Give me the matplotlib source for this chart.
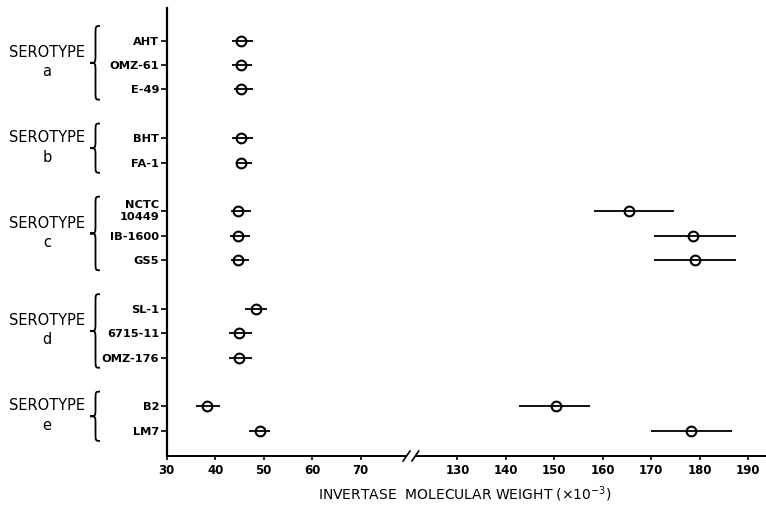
import matplotlib
matplotlib.use("Agg")
import matplotlib.pyplot as plt
from matplotlib.path import Path
from matplotlib.patches import PathPatch
import matplotlib.transforms as mtransforms

# Strains grouped by serotype
serotypes = ["a", "b", "c", "d", "e"]
strains_a = ["AHT", "OMZ-61", "E-49"]
strains_b = ["BHT", "FA-1"]
strains_c = ["NCTC\n10449", "IB-1600", "GS5"]
strains_d = ["SL-1", "6715-11", "OMZ-176"]
strains_e = ["B2", "LM7"]

# Low molecular weight invertase (x10^-3): estimate and range
low_mw = [45.3, 45.3, 45.3, 45.3, 45.4, 44.8, 44.8, 44.8, 48.5, 45.0, 45.0, 38.4, 49.2]
low_min = [43.5, 43.5, 43.8, 43.5, 44.2, 43.3, 43.1, 43.2, 46.1, 42.9, 42.9, 36.0, 47.0]
low_max = [47.9, 47.5, 47.8, 47.9, 47.5, 47.4, 47.1, 47.0, 50.8, 47.7, 47.6, 41.0, 51.4]

# High molecular weight invertase, found in a subset of strains
high_strains = ["NCTC\n10449", "IB-1600", "GS5", "B2", "LM7"]
high_mw = [165.5, 178.6, 179.1, 150.4, 178.1]
high_min = [158.1, 170.5, 170.6, 142.6, 170.0]
high_max = [174.6, 187.4, 187.4, 157.3, 186.7]

x_ticks_low = [30, 40, 50, 60, 70]
x_ticks_high = [130, 140, 150, 160, 170, 180, 190]
x_label = "INVERTASE  MOLECULAR WEIGHT (\u00d710$^{-3}$)"

groups = [strains_a, strains_b, strains_c, strains_d, strains_e]

# Row positions: one empty row between serotype groups
labels, ypos, group_rows = [], [], []
slot = 0
for g in groups:
    rows = []
    for s in g:
        labels.append(s)
        ypos.append(slot)
        rows.append(slot)
        slot += 1
    group_rows.append(rows)
    slot += 1
row_of = dict(zip(labels, ypos))

W, H = 766, 512
fig = plt.figure(figsize=(W / 100, H / 100), dpi=100)
fig.patch.set_facecolor("white")

x0, xb, x1 = 166.7, 409.0, 766.0
y_top, y_bot = 8.0, 456.0
ax1 = fig.add_axes([x0 / W, (H - y_bot) / H, (xb - x0) / W, (y_bot - y_top) / H])
ax2 = fig.add_axes([xb / W, (H - y_bot) / H, (x1 - xb) / W, (y_bot - y_top) / H], sharey=ax1)

ax1.set_xlim(30, 80)
ax2.set_xlim(120, 120 + (x1 - xb) / (xb - x0) * 50)
ax1.set_ylim(17.04, -1.34)

ekw = dict(fmt="o", color="black", mfc="none", mec="black", ms=7, mew=1.5,
           elinewidth=1.3, capsize=0, zorder=3)

xerr_low = [[m - lo for m, lo in zip(low_mw, low_min)],
            [hi - m for m, hi in zip(low_mw, low_max)]]
ax1.errorbar(low_mw, ypos, xerr=xerr_low, **ekw)

hy = [row_of[s] for s in high_strains]
xerr_high = [[m - lo for m, lo in zip(high_mw, high_min)],
             [hi - m for m, hi in zip(high_mw, high_max)]]
ax2.errorbar(high_mw, hy, xerr=xerr_high, **ekw)

for ax in (ax1, ax2):
    ax.spines["top"].set_visible(False)
    ax.spines["right"].set_visible(False)
    ax.spines["bottom"].set_linewidth(1.4)
    ax.patch.set_visible(False)
    ax.tick_params(axis="x", direction="out", length=3, width=1.2, pad=3,
                   labelsize=8.5)

ax1.spines["left"].set_linewidth(1.6)
ax2.spines["left"].set_visible(False)
ax2.tick_params(axis="y", left=False, labelleft=False)

ax1.set_xticks(x_ticks_low)
ax2.set_xticks(x_ticks_high)
for ax in (ax1, ax2):
    for t in ax.get_xticklabels():
        t.set_fontweight("bold")

ax1.set_yticks(ypos)
ax1.set_yticklabels(labels, fontsize=8.2, fontweight="bold", linespacing=1.25)
ax1.tick_params(axis="y", direction="out", length=4, width=1.2, pad=1.5)
for t in ax1.get_yticklabels():
    if "\n" in t.get_text():
        t.set_verticalalignment("center")
        t.set_y(t.get_position()[1])

# Broken axis
ax1.spines["bottom"].set_bounds(30, 79.2)
ax2.spines["bottom"].set_bounds(121.6, ax2.get_xlim()[1])
tb1 = mtransforms.blended_transform_factory(ax1.transData, ax1.transAxes)
tb2 = mtransforms.blended_transform_factory(ax2.transData, ax2.transAxes)
ax1.plot([78.8, 80.2], [-0.011, 0.011], color="black", lw=1.2, transform=tb1, clip_on=False)
ax2.plot([120.6, 122.0], [-0.011, 0.011], color="black", lw=1.2, transform=tb2, clip_on=False)

fig.text(465 / W, 1 - 494 / H, x_label, ha="center", va="center", fontsize=10)

# Serotype braces and labels
tf = mtransforms.blended_transform_factory(fig.transFigure, ax1.transData)
xe, xv, xt = 100.0 / W, 95.5 / W, 90.0 / W
r = 0.35
for name, rows in zip(serotypes, group_rows):
    ya = rows[0] - 0.6
    yb = rows[-1] + 0.42
    ym = (ya + yb) / 2
    verts = [(xe, ya), (xv, ya), (xv, ya), (xv, ya + r),
             (xv, ym - r),
             (xv, ym), (xv, ym), (xt, ym),
             (xv, ym), (xv, ym), (xv, ym + r),
             (xv, yb - r),
             (xv, yb), (xv, yb), (xe, yb)]
    codes = [Path.MOVETO, Path.CURVE4, Path.CURVE4, Path.CURVE4,
             Path.LINETO,
             Path.CURVE4, Path.CURVE4, Path.CURVE4,
             Path.CURVE4, Path.CURVE4, Path.CURVE4,
             Path.LINETO,
             Path.CURVE4, Path.CURVE4, Path.CURVE4]
    fig.add_artist(PathPatch(Path(verts, codes), transform=tf, fill=False,
                             lw=1.3, ec="black"))
    yc = sum(rows) / len(rows) - 0.12
    fig.text(47 / W, yc, "SEROTYPE\n" + name, transform=tf, ha="center",
             va="center", fontsize=10.5, linespacing=1.35)

fig.savefig("out.png", dpi=100, facecolor="white")
